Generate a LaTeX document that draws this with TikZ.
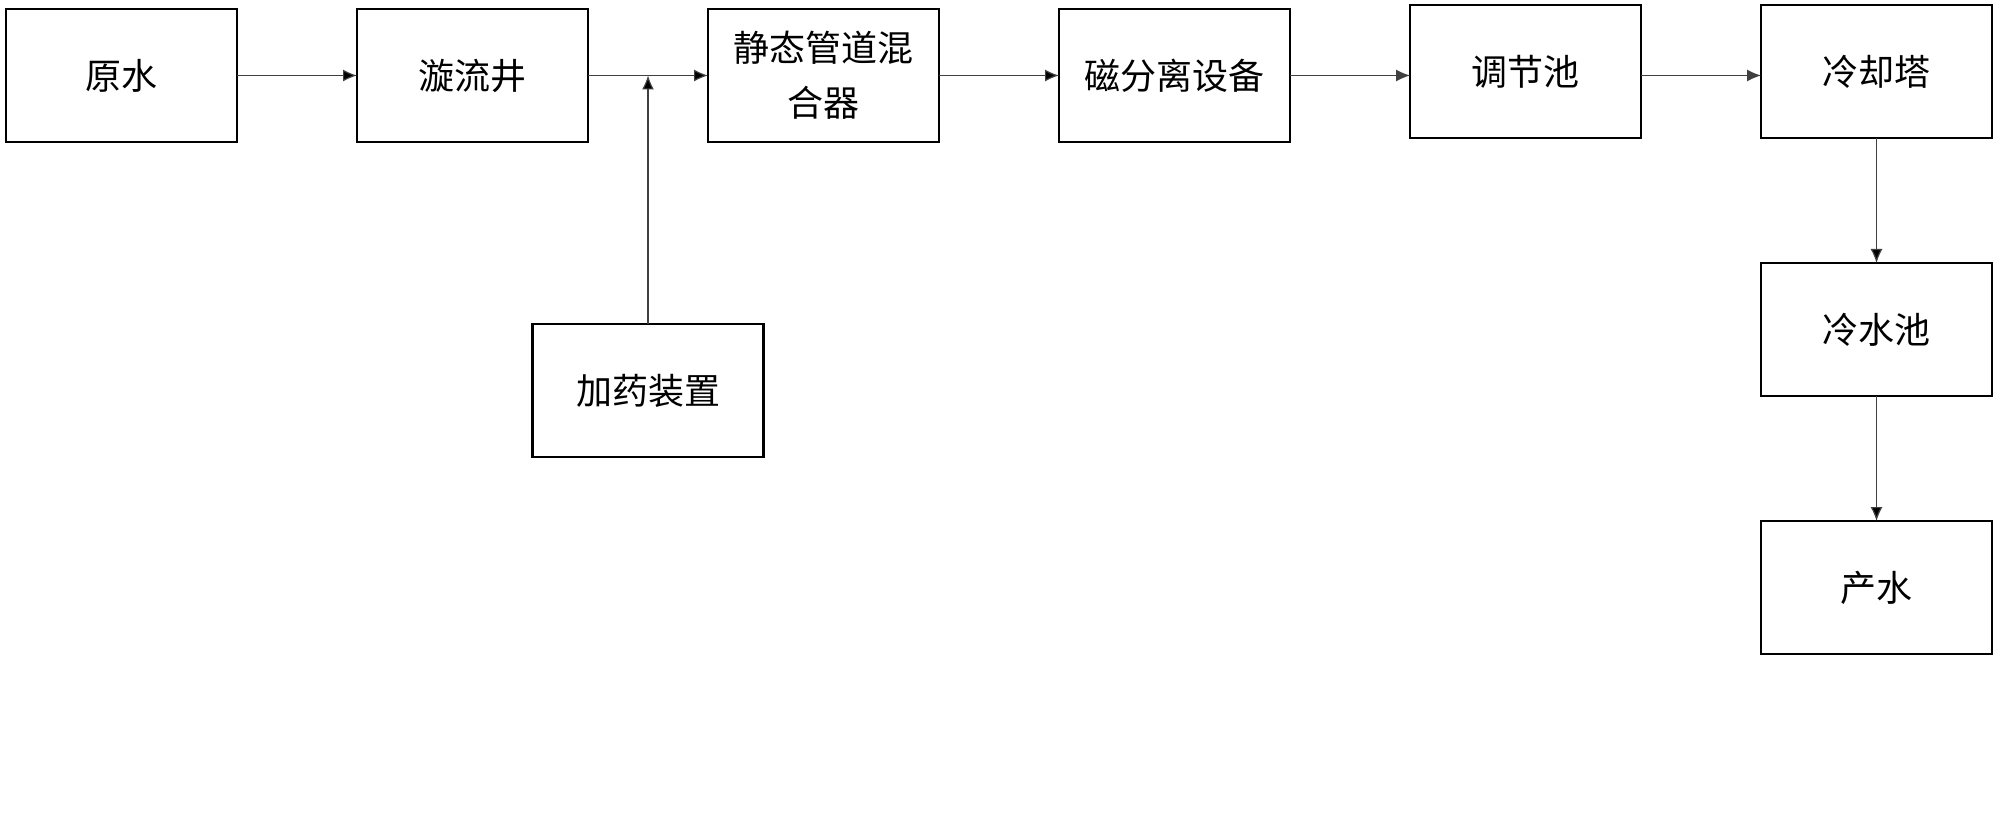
\documentclass[tikz,border=0pt]{standalone}
\usepackage{fontspec}
\newfontfamily\cjk{Noto Sans CJK SC}
\usetikzlibrary{positioning,calc,arrows.meta}

\begin{document}
\begin{tikzpicture}[
        box/.style = {draw, line width = 1.4pt, minimum width = 115.5pt, minimum height = 66.5pt,
                      outer sep = 0pt, inner sep = 2pt, align = center,
                      font = \cjk\fontsize{18}{27.5}\selectfont},
        flow/.style = {draw = black!75, line width = 0.6pt, -{Latex[length = 7pt, width = 6pt]}}]
        \useasboundingbox (0,0) rectangle (1000pt,-416.5pt);

        \node [box] (Y) at (60.75pt,-37.75pt) {原水};
        \node [box] (X) [right = 60pt of Y] {漩流井};
        \node [box] (M) [right = 60pt of X] {静态管道混\\合器};
        \node [box] (C) [right = 60pt of M] {磁分离设备};
        \node [box] (T) [right = 60pt of C, yshift = 2pt] {调节池};
        \node [box] (L) [right = 60pt of T] {冷却塔};
        \node [box] (W) [below = 62.5pt of L] {冷水池};
        \node [box] (P) [below = 62.5pt of W] {产水};

        % dosing joins between the well and the mixer
        \coordinate (jn) at ($(X.east)!0.5!(M.west)$);
        \node [box] (J) [below = 124.25pt of jn] {加药装置};

        \path[flow]
            (Y) edge (X)
            (X) edge (M)
            (M) edge (C)
            (L) edge (W)
            (W) edge (P)
            (J) edge (jn);
        \draw[flow] (C.east) -- (C.east -| T.west);
        \draw[flow] (C.east -| T.east) -- (C.east -| L.west);
    \end{tikzpicture}
\end{document}
